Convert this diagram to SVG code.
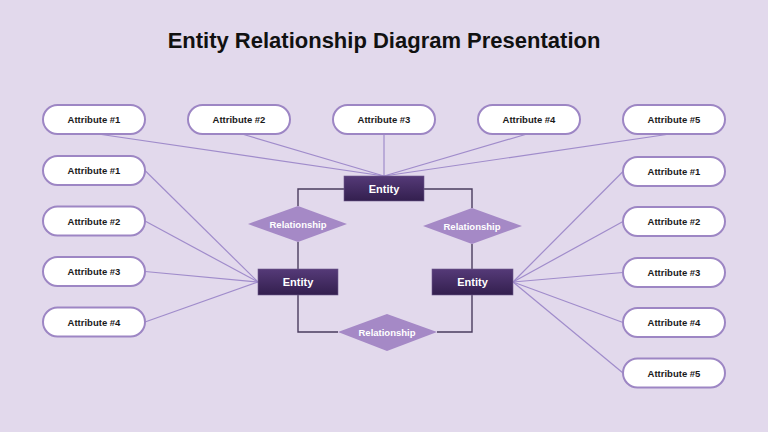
<svg xmlns="http://www.w3.org/2000/svg" width="768" height="432" viewBox="0 0 768 432">
<defs>
<linearGradient id="entGrad" x1="0" y1="0" x2="0" y2="1">
<stop offset="0" stop-color="#553a78"/>
<stop offset="1" stop-color="#331f4e"/>
</linearGradient>
<style>
.pill{fill:#ffffff;stroke:#9d86c4;stroke-width:2}
.ptxt{font-family:"Liberation Sans",Arial,sans-serif;font-weight:bold;font-size:9.5px;fill:#1a1a1a;text-anchor:middle}
.ent{fill:url(#entGrad);stroke:#6e5a8c;stroke-width:0.6}
.etxt{font-family:"Liberation Sans",Arial,sans-serif;font-weight:bold;font-size:11px;fill:#ffffff;text-anchor:middle}
.dia{fill:#a589c6}
.dtxt{font-family:"Liberation Sans",Arial,sans-serif;font-weight:bold;font-size:9.5px;fill:#ffffff;text-anchor:middle}
.attr{stroke:#a08ccb;stroke-width:1.2;fill:none}
.rel{stroke:#4a3c5e;stroke-width:1.4;fill:none}
.title{font-family:"Liberation Sans",Arial,sans-serif;font-weight:bold;font-size:22px;fill:#111111;text-anchor:middle}
</style>
</defs>
<rect x="0" y="0" width="768" height="432" fill="#e2d9ec"/>
<text class="title" x="384" y="48">Entity Relationship Diagram Presentation</text>

<g id="connectors">
<line class="attr" x1="98" y1="134" x2="384" y2="176"/>
<line class="attr" x1="242" y1="134" x2="384" y2="176"/>
<line class="attr" x1="384" y1="134" x2="384" y2="176"/>
<line class="attr" x1="527" y1="134" x2="384" y2="176"/>
<line class="attr" x1="670" y1="134" x2="384" y2="176"/>
<line class="attr" x1="145" y1="170.5" x2="258" y2="282"/>
<line class="attr" x1="145" y1="221" x2="258" y2="282"/>
<line class="attr" x1="145" y1="271.5" x2="258" y2="282"/>
<line class="attr" x1="145" y1="322" x2="258" y2="282"/>
<line class="attr" x1="623" y1="171.5" x2="513" y2="282"/>
<line class="attr" x1="623" y1="221.5" x2="513" y2="282"/>
<line class="attr" x1="623" y1="272.5" x2="513" y2="282"/>
<line class="attr" x1="623" y1="322.5" x2="513" y2="282"/>
<line class="attr" x1="623" y1="373" x2="513" y2="282"/>
<polyline class="rel" points="344,189 298,189 298,206"/>
<line class="rel" x1="298" y1="242" x2="298" y2="269"/>
<polyline class="rel" points="424,189 472,189 472,208"/>
<line class="rel" x1="472" y1="244" x2="472" y2="269"/>
<polyline class="rel" points="298,295 298,332 338,332"/>
<polyline class="rel" points="437,332 472,332 472,295"/>
</g>

<g id="attr-top-1"><rect class="pill" x="43" y="105" width="102" height="29" rx="14.5"/><text class="ptxt" x="94" y="123">Attribute #1</text></g>
<g id="attr-top-2"><rect class="pill" x="188" y="105" width="102" height="29" rx="14.5"/><text class="ptxt" x="239" y="123">Attribute #2</text></g>
<g id="attr-top-3"><rect class="pill" x="333" y="105" width="102" height="29" rx="14.5"/><text class="ptxt" x="384" y="123">Attribute #3</text></g>
<g id="attr-top-4"><rect class="pill" x="478" y="105" width="102" height="29" rx="14.5"/><text class="ptxt" x="529" y="123">Attribute #4</text></g>
<g id="attr-top-5"><rect class="pill" x="623" y="105" width="102" height="29" rx="14.5"/><text class="ptxt" x="674" y="123">Attribute #5</text></g>

<g id="attr-left-1"><rect class="pill" x="43" y="156" width="102" height="29" rx="14.5"/><text class="ptxt" x="94" y="174">Attribute #1</text></g>
<g id="attr-left-2"><rect class="pill" x="43" y="206.5" width="102" height="29" rx="14.5"/><text class="ptxt" x="94" y="224.5">Attribute #2</text></g>
<g id="attr-left-3"><rect class="pill" x="43" y="257" width="102" height="29" rx="14.5"/><text class="ptxt" x="94" y="275">Attribute #3</text></g>
<g id="attr-left-4"><rect class="pill" x="43" y="307.5" width="102" height="29" rx="14.5"/><text class="ptxt" x="94" y="325.5">Attribute #4</text></g>

<g id="attr-right-1"><rect class="pill" x="623" y="157" width="102" height="29" rx="14.5"/><text class="ptxt" x="674" y="175">Attribute #1</text></g>
<g id="attr-right-2"><rect class="pill" x="623" y="207" width="102" height="29" rx="14.5"/><text class="ptxt" x="674" y="225">Attribute #2</text></g>
<g id="attr-right-3"><rect class="pill" x="623" y="258" width="102" height="29" rx="14.5"/><text class="ptxt" x="674" y="276">Attribute #3</text></g>
<g id="attr-right-4"><rect class="pill" x="623" y="308" width="102" height="29" rx="14.5"/><text class="ptxt" x="674" y="326">Attribute #4</text></g>
<g id="attr-right-5"><rect class="pill" x="623" y="358.5" width="102" height="29" rx="14.5"/><text class="ptxt" x="674" y="376.5">Attribute #5</text></g>

<g id="entity-top"><rect class="ent" x="344" y="176" width="80" height="25"/><text class="etxt" x="384" y="192.5">Entity</text></g>
<g id="entity-left"><rect class="ent" x="258" y="269" width="80" height="26"/><text class="etxt" x="298" y="286">Entity</text></g>
<g id="entity-right"><rect class="ent" x="432" y="269" width="81" height="26"/><text class="etxt" x="472.5" y="286">Entity</text></g>

<g id="rel-left"><polygon class="dia" points="298,206 347,224 298,242 248,224"/><text class="dtxt" x="298" y="227.5">Relationship</text></g>
<g id="rel-right"><polygon class="dia" points="472,208 522,226 472,244 423,226"/><text class="dtxt" x="472" y="229.5">Relationship</text></g>
<g id="rel-bottom"><polygon class="dia" points="387,314 437,332 387,351 338,332"/><text class="dtxt" x="387" y="335.5">Relationship</text></g>
</svg>
